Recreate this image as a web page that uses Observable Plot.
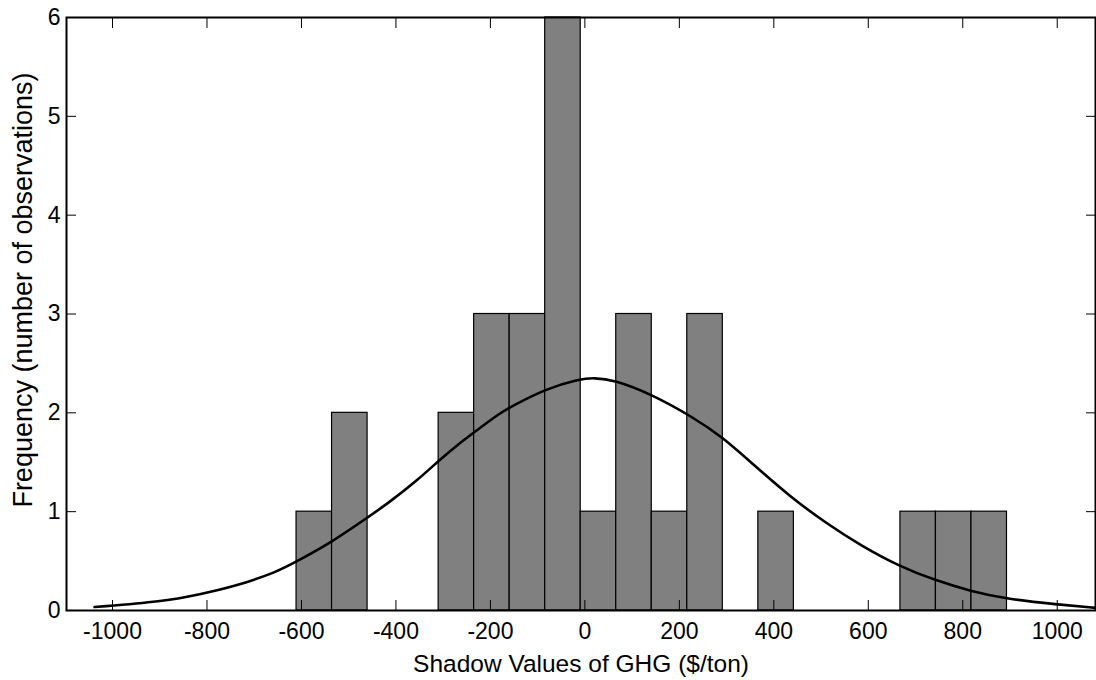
<!DOCTYPE html>
<html>
<head>
<meta charset="utf-8">
<script src="https://cdn.jsdelivr.net/npm/d3@7"></script>
<script src="https://cdn.jsdelivr.net/npm/@observablehq/plot@0.6"></script>
<style>
  html, body { margin: 0; padding: 0; background: #fff; }
  #chart svg { display: block; }
</style>
</head>
<body>
<div id="chart"></div>
<script>
// Histogram bin edges (x, $/ton) and counts
const binEdges = [-610.4, -535.2, -460.0, -384.8, -309.6, -234.4, -159.2, -84.0, -8.8, 66.4, 141.6,
                  216.8, 292.0, 367.2, 442.4, 517.6, 592.8, 668.0, 743.2, 818.4, 893.6];
const counts = [1, 2, 0, 0, 2, 3, 3, 6, 1, 3, 1, 3, 0, 1, 0, 0, 0, 1, 1, 1];

// Fitted normal curve
const fitX = [-1038, -893, -814, -744, -651, -609, -538, -464, -418, -355, -309, -270, -238, -179, -157, -83,
              -9, 19, 61, 139, 231, 291, 351, 435, 513, 584, 665, 742, 817, 891, 1000, 1081];
const fitY = [0.035, 0.09, 0.165, 0.24, 0.39, 0.5, 0.685, 0.928, 1.08, 1.315, 1.518, 1.675, 1.79, 2.0, 2.06, 2.243,
              2.344, 2.354, 2.334, 2.193, 1.950, 1.754, 1.501, 1.147, 0.877, 0.658, 0.449, 0.304, 0.196, 0.118, 0.061, 0.027];

const xTicks = [-1000, -800, -600, -400, -200, 0, 200, 400, 600, 800, 1000];
const yTicks = [0, 1, 2, 3, 4, 5, 6];
const xLabel = "Shadow Values of GHG ($/ton)";
const yLabel = "Frequency (number of observations)";

const bars = counts.map((c, i) => ({x1: binEdges[i], x2: binEdges[i + 1], count: c})).filter(d => d.count > 0);
const fit = fitX.map((x, i) => ({x, y: fitY[i]}));

const font = "'Liberation Sans', Arial, Helvetica, sans-serif";
const empty = () => "";

const chart = Plot.plot({
  width: 1096,
  height: 680,
  marginLeft: 66,
  marginRight: 1,
  marginTop: 17,
  marginBottom: 70,
  style: {fontFamily: font, fontSize: "23px", color: "#000", background: "#fff"},
  x: {domain: [-1097.4, 1081]},
  y: {domain: [0, 6]},
  marks: [
    Plot.rect(bars, {x1: "x1", x2: "x2", y1: 0, y2: "count", fill: "#808080", stroke: "#000", strokeWidth: 1.2}),
    Plot.line(fit, {x: "x", y: "y", stroke: "#000", strokeWidth: 2.6, curve: "basis"}),
    // inward ticks on all four sides
    Plot.axisX({anchor: "bottom", ticks: xTicks, tickSize: 10, dy: -10, tickFormat: empty, label: null, strokeWidth: 1}),
    Plot.axisX({anchor: "top", ticks: xTicks, tickSize: 10, dy: 10, tickFormat: empty, label: null, strokeWidth: 1}),
    Plot.axisY({anchor: "left", ticks: yTicks, tickSize: 10, dx: 10, tickFormat: empty, label: null, strokeWidth: 1}),
    Plot.axisY({anchor: "right", ticks: yTicks, tickSize: 10, dx: -10, tickFormat: empty, label: null, strokeWidth: 1}),
    // tick labels
    Plot.axisX({anchor: "bottom", ticks: xTicks, tickSize: 0, tickPadding: 12, tickFormat: d => String(d), label: null, fontSize: 23}),
    Plot.axisY({anchor: "left", ticks: yTicks, tickSize: 0, tickPadding: 6, tickFormat: d => String(d), label: null, fontSize: 23}),
    Plot.frame({stroke: "#000", strokeWidth: 2}),
    // axis titles
    Plot.text([xLabel], {frameAnchor: "bottom", text: d => d, dy: 54, fontSize: 24.5, textAnchor: "middle", lineAnchor: "middle"}),
    Plot.text([yLabel], {frameAnchor: "left", text: d => d, dx: -43, dy: -24, rotate: -90, fontSize: 27, textAnchor: "middle", lineAnchor: "middle"})
  ]
});

document.getElementById("chart").appendChild(chart);
</script>
</body>
</html>
